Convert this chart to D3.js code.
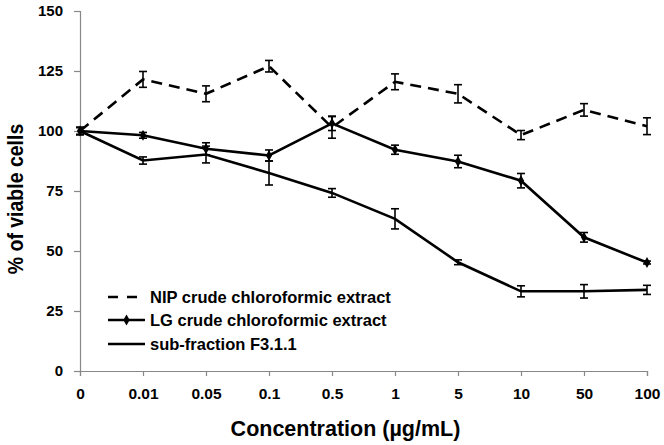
<!DOCTYPE html>
<html><head><meta charset="utf-8">
<script src="https://cdn.jsdelivr.net/npm/d3@7"></script>
<style>body{margin:0;background:#fff}svg{display:block;font-family:"Liberation Sans",Arial,sans-serif}</style>
</head><body><svg id="c" width="664" height="445"></svg>
<script>
const categories = ["0","0.01","0.05","0.1","0.5","1","5","10","50","100"];
const yTicks = [0,25,50,75,100,125,150];
const nipValues = [100,121.5,115.5,127,101.5,120.5,115.5,98.3,108.8,102];
const nipErrors = [1.5,3.3,3.3,2.4,4.5,3.3,3.8,1.9,2.6,3.5];
const lgValues = [100,98.2,92.6,89.8,103.2,92.2,87.3,79.3,55.7,45.2];
const lgErrors = [1.5,1.2,2.5,2.3,3,1.9,2.6,3,2,0.6];
const f3Values = [100,87.7,90.2,82.5,74.2,63.4,45.3,33.2,33.2,33.8];
const f3Errors = [1.5,1.5,3.5,5,1.8,4.2,1,2.3,2.8,1.9];
const seriesNames = ["NIP crude chloroformic extract","LG crude chloroformic extract","sub-fraction F3.1.1"];

const svg = d3.select("#c");
const x = d3.scalePoint().domain(categories).range([80,647]);
const y = d3.scaleLinear().domain([0,150]).range([371,11]);

// axes
const axColor = "#888";
const gy = svg.append("g").attr("transform","translate(80,0)")
  .call(d3.axisLeft(y).tickValues(yTicks).tickSize(6).tickPadding(11));
const gx = svg.append("g").attr("transform","translate(0,371)")
  .call(d3.axisBottom(x).tickSize(5).tickPadding(12));
[gx,gy].forEach(g=>{
  g.selectAll("path,line").attr("stroke",axColor).attr("stroke-width",1.2);
  g.selectAll("text").attr("fill","#000").attr("font-weight","bold")
   .attr("font-family","'Liberation Sans',Arial,sans-serif");
});
gy.selectAll("text").attr("font-size",15);
gx.selectAll("text").attr("font-size",15.5);

svg.append("text").attr("x",345.5).attr("y",436).attr("text-anchor","middle")
  .attr("font-size",21.5).attr("font-weight","bold").text("Concentration (µg/mL)");
svg.append("text").attr("transform","translate(23,199) rotate(-90) scale(1,1.12)").attr("text-anchor","middle")
  .attr("font-size",19.5).attr("font-weight","bold").text("% of viable cells");

const series = [
  {vals:nipValues, errs:nipErrors, dash:"11,7", marker:false},
  {vals:lgValues, errs:lgErrors, dash:null, marker:true},
  {vals:f3Values, errs:f3Errors, dash:null, marker:false}
];
const line = d3.line().x((d,i)=>x(categories[i])).y(d=>y(d));

series.forEach(s=>{
  // error bars
  const g = svg.append("g").attr("stroke","#000").attr("stroke-width",1.6);
  s.vals.forEach((v,i)=>{
    const cx = x(categories[i]), e = s.errs[i];
    g.append("line").attr("x1",cx).attr("x2",cx).attr("y1",y(v+e)).attr("y2",y(v-e));
    g.append("line").attr("x1",cx-4).attr("x2",cx+4).attr("y1",y(v+e)).attr("y2",y(v+e));
    g.append("line").attr("x1",cx-4).attr("x2",cx+4).attr("y1",y(v-e)).attr("y2",y(v-e));
  });
  svg.append("path").datum(s.vals).attr("d",line).attr("fill","none")
    .attr("stroke","#000").attr("stroke-width",2.6)
    .attr("stroke-dasharray",s.dash);
  if(s.marker){
    svg.append("g").selectAll("path").data(s.vals).join("path")
      .attr("transform",(d,i)=>`translate(${x(categories[i])},${y(d)})`)
      .attr("d",d3.symbol().type(d3.symbolDiamond).size(34)).attr("fill","#000");
  }
});

// legend
const legY = [297,320,344];
series.forEach((s,i)=>{
  svg.append("line").attr("x1",108).attr("x2",145).attr("y1",legY[i]).attr("y2",legY[i])
    .attr("stroke","#000").attr("stroke-width",2.6).attr("stroke-dasharray",s.dash?"10,9":null);
  if(s.marker) svg.append("path").attr("transform",`translate(126.5,${legY[i]})`)
    .attr("d",d3.symbol().type(d3.symbolDiamond).size(34)).attr("fill","#000");
  svg.append("text").attr("x",150).attr("y",legY[i]+6).attr("font-size",16.5)
    .attr("font-weight","bold").text(seriesNames[i]);
});
</script></body></html>
